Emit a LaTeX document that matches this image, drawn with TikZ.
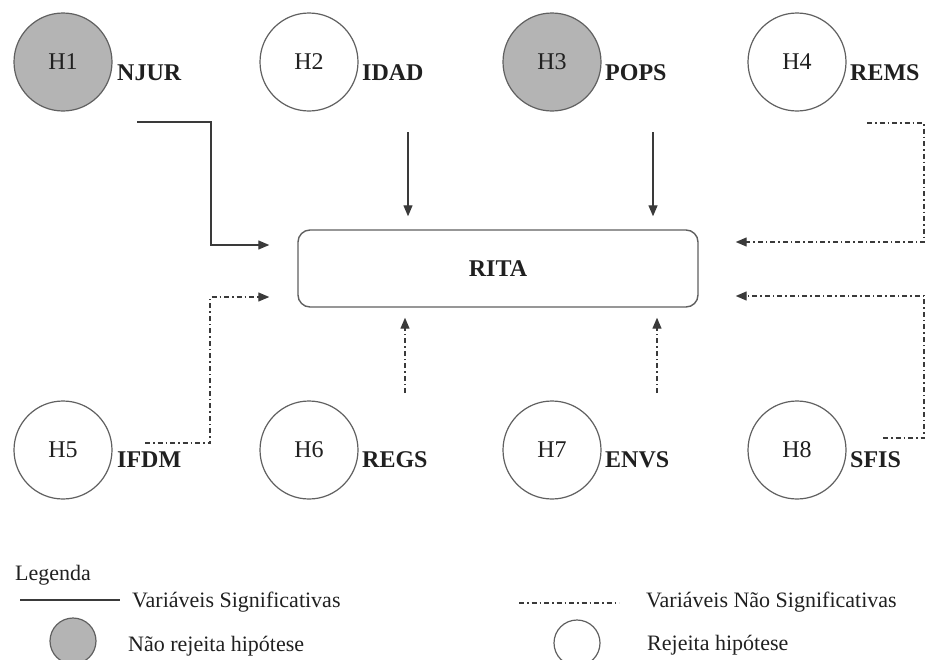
\documentclass[tikz,border=0pt]{standalone}
\usepackage{fontspec}
\setmainfont{Liberation Serif}
\usetikzlibrary{arrows.meta}
\definecolor{linegray}{HTML}{3A3A3A}
\definecolor{rimgray}{HTML}{606060}
\definecolor{fillgray}{HTML}{B4B4B4}
\definecolor{inkgray}{HTML}{202020}
\begin{document}
\begin{tikzpicture}[x=1pt,y=-1pt,
  hyp/.style={circle, draw=rimgray, line width=1.2pt, minimum size=98pt, inner sep=0pt,
              font=\fontsize{24}{28}\selectfont, text=inkgray},
  kept/.style={hyp, fill=fillgray},
  dropped/.style={hyp, fill=white},
  lab/.style={anchor=base west, inner sep=0pt, font=\fontsize{24}{28}\selectfont\bfseries, text=inkgray},
  legtext/.style={anchor=base west, inner sep=0pt, font=\fontsize{22}{26}\selectfont, text=inkgray},
  outcome/.style={draw=rimgray, line width=1.4pt, rounded corners=12pt, minimum width=400pt,
              minimum height=77pt, font=\fontsize{24}{28}\selectfont\bfseries, text=inkgray},
  sig/.style={draw=linegray, line width=1.3pt, -{Triangle[length=11pt,width=9pt]}},
  nonsig/.style={draw=linegray, line width=1.3pt, dash pattern=on 5pt off 3pt on 1.5pt off 3pt,
              -{Triangle[length=11pt,width=9pt]}},
  legsolid/.style={draw=linegray, line width=1.3pt},
  legdash/.style={draw=linegray, line width=1.1pt, dash pattern=on 5pt off 3pt on 1.5pt off 3pt},
  legcircle/.style={circle, draw=rimgray, line width=1.2pt, minimum size=46pt, inner sep=0pt}
]
\useasboundingbox (0,0) rectangle (928,659);

% dependent variable
\node[outcome] (rita) at (498,268.5) {RITA};

% hypotheses, top row
\node[kept]    (h1) at (63,62)  {H1};
\node[dropped] (h2) at (309,62) {H2};
\node[kept]    (h3) at (552,62) {H3};
\node[dropped] (h4) at (797,62) {H4};
\node[lab] (njur) at (117,80) {NJUR};
\node[lab] (idad) at (362,80) {IDAD};
\node[lab] (pops) at (605,80) {POPS};
\node[lab] (rems) at (850,80) {REMS};

% hypotheses, bottom row
\node[dropped] (h5) at (63,450)  {H5};
\node[dropped] (h6) at (309,450) {H6};
\node[dropped] (h7) at (552,450) {H7};
\node[dropped] (h8) at (797,450) {H8};
\node[lab] (ifdm) at (117,467) {IFDM};
\node[lab] (regs) at (362,467) {REGS};
\node[lab] (envs) at (605,467) {ENVS};
\node[lab] (sfis) at (850,467) {SFIS};

% connector start and bend points
\coordinate (s1) at (137,122);  \coordinate (b1) at (211,245);
\coordinate (s2) at (408,132);
\coordinate (s3) at (653,132);
\coordinate (s4) at (867,123);  \coordinate (b4) at (924,242);
\coordinate (s5) at (145,443);  \coordinate (b5) at (210,297);
\coordinate (s6) at (405,393);
\coordinate (s7) at (657,393);
\coordinate (s8) at (883,438);  \coordinate (b8) at (924,296);

% significant variables
\draw[sig, shorten >=28pt] (s1) -| (b1) -- (b1 -| rita.west);
\draw[sig, shorten >=13pt] (s2) -- (s2 |- rita.north);
\draw[sig, shorten >=13pt] (s3) -- (s3 |- rita.north);

% non-significant variables
\draw[nonsig, shorten >=37pt] (s4) -| (b4) -- (b4 -| rita.east);
\draw[nonsig, shorten >=28pt] (s5) -| (b5) -- (b5 -| rita.west);
\draw[nonsig, shorten >=10pt] (s6) -- (s6 |- rita.south);
\draw[nonsig, shorten >=10pt] (s7) -- (s7 |- rita.south);
\draw[nonsig, shorten >=37pt] (s8) -| (b8) -- (b8 -| rita.east);

% legend
\node[legtext] (leg) at (15,580) {Legenda};
\coordinate (ls1) at (20,600); \coordinate (ls2) at (120,600);
\draw[legsolid] (ls1) -- (ls2);
\node[legtext] (legsig) at (132,607) {Variáveis Significativas};
\node[legcircle, fill=fillgray] (legkept) at (73,641) {};
\node[legtext] (legkepttxt) at (128,651) {Não rejeita hipótese};

\coordinate (ld1) at (519,603); \coordinate (ld2) at (619,603);
\draw[legdash] (ld1) -- (ld2);
\node[legtext] (legnonsig) at (646,607) {Variáveis Não Significativas};
\node[legcircle, fill=white] (legdropped) at (577,643) {};
\node[legtext] (legdroppedtxt) at (647,650) {Rejeita hipótese};
\end{tikzpicture}
\end{document}
